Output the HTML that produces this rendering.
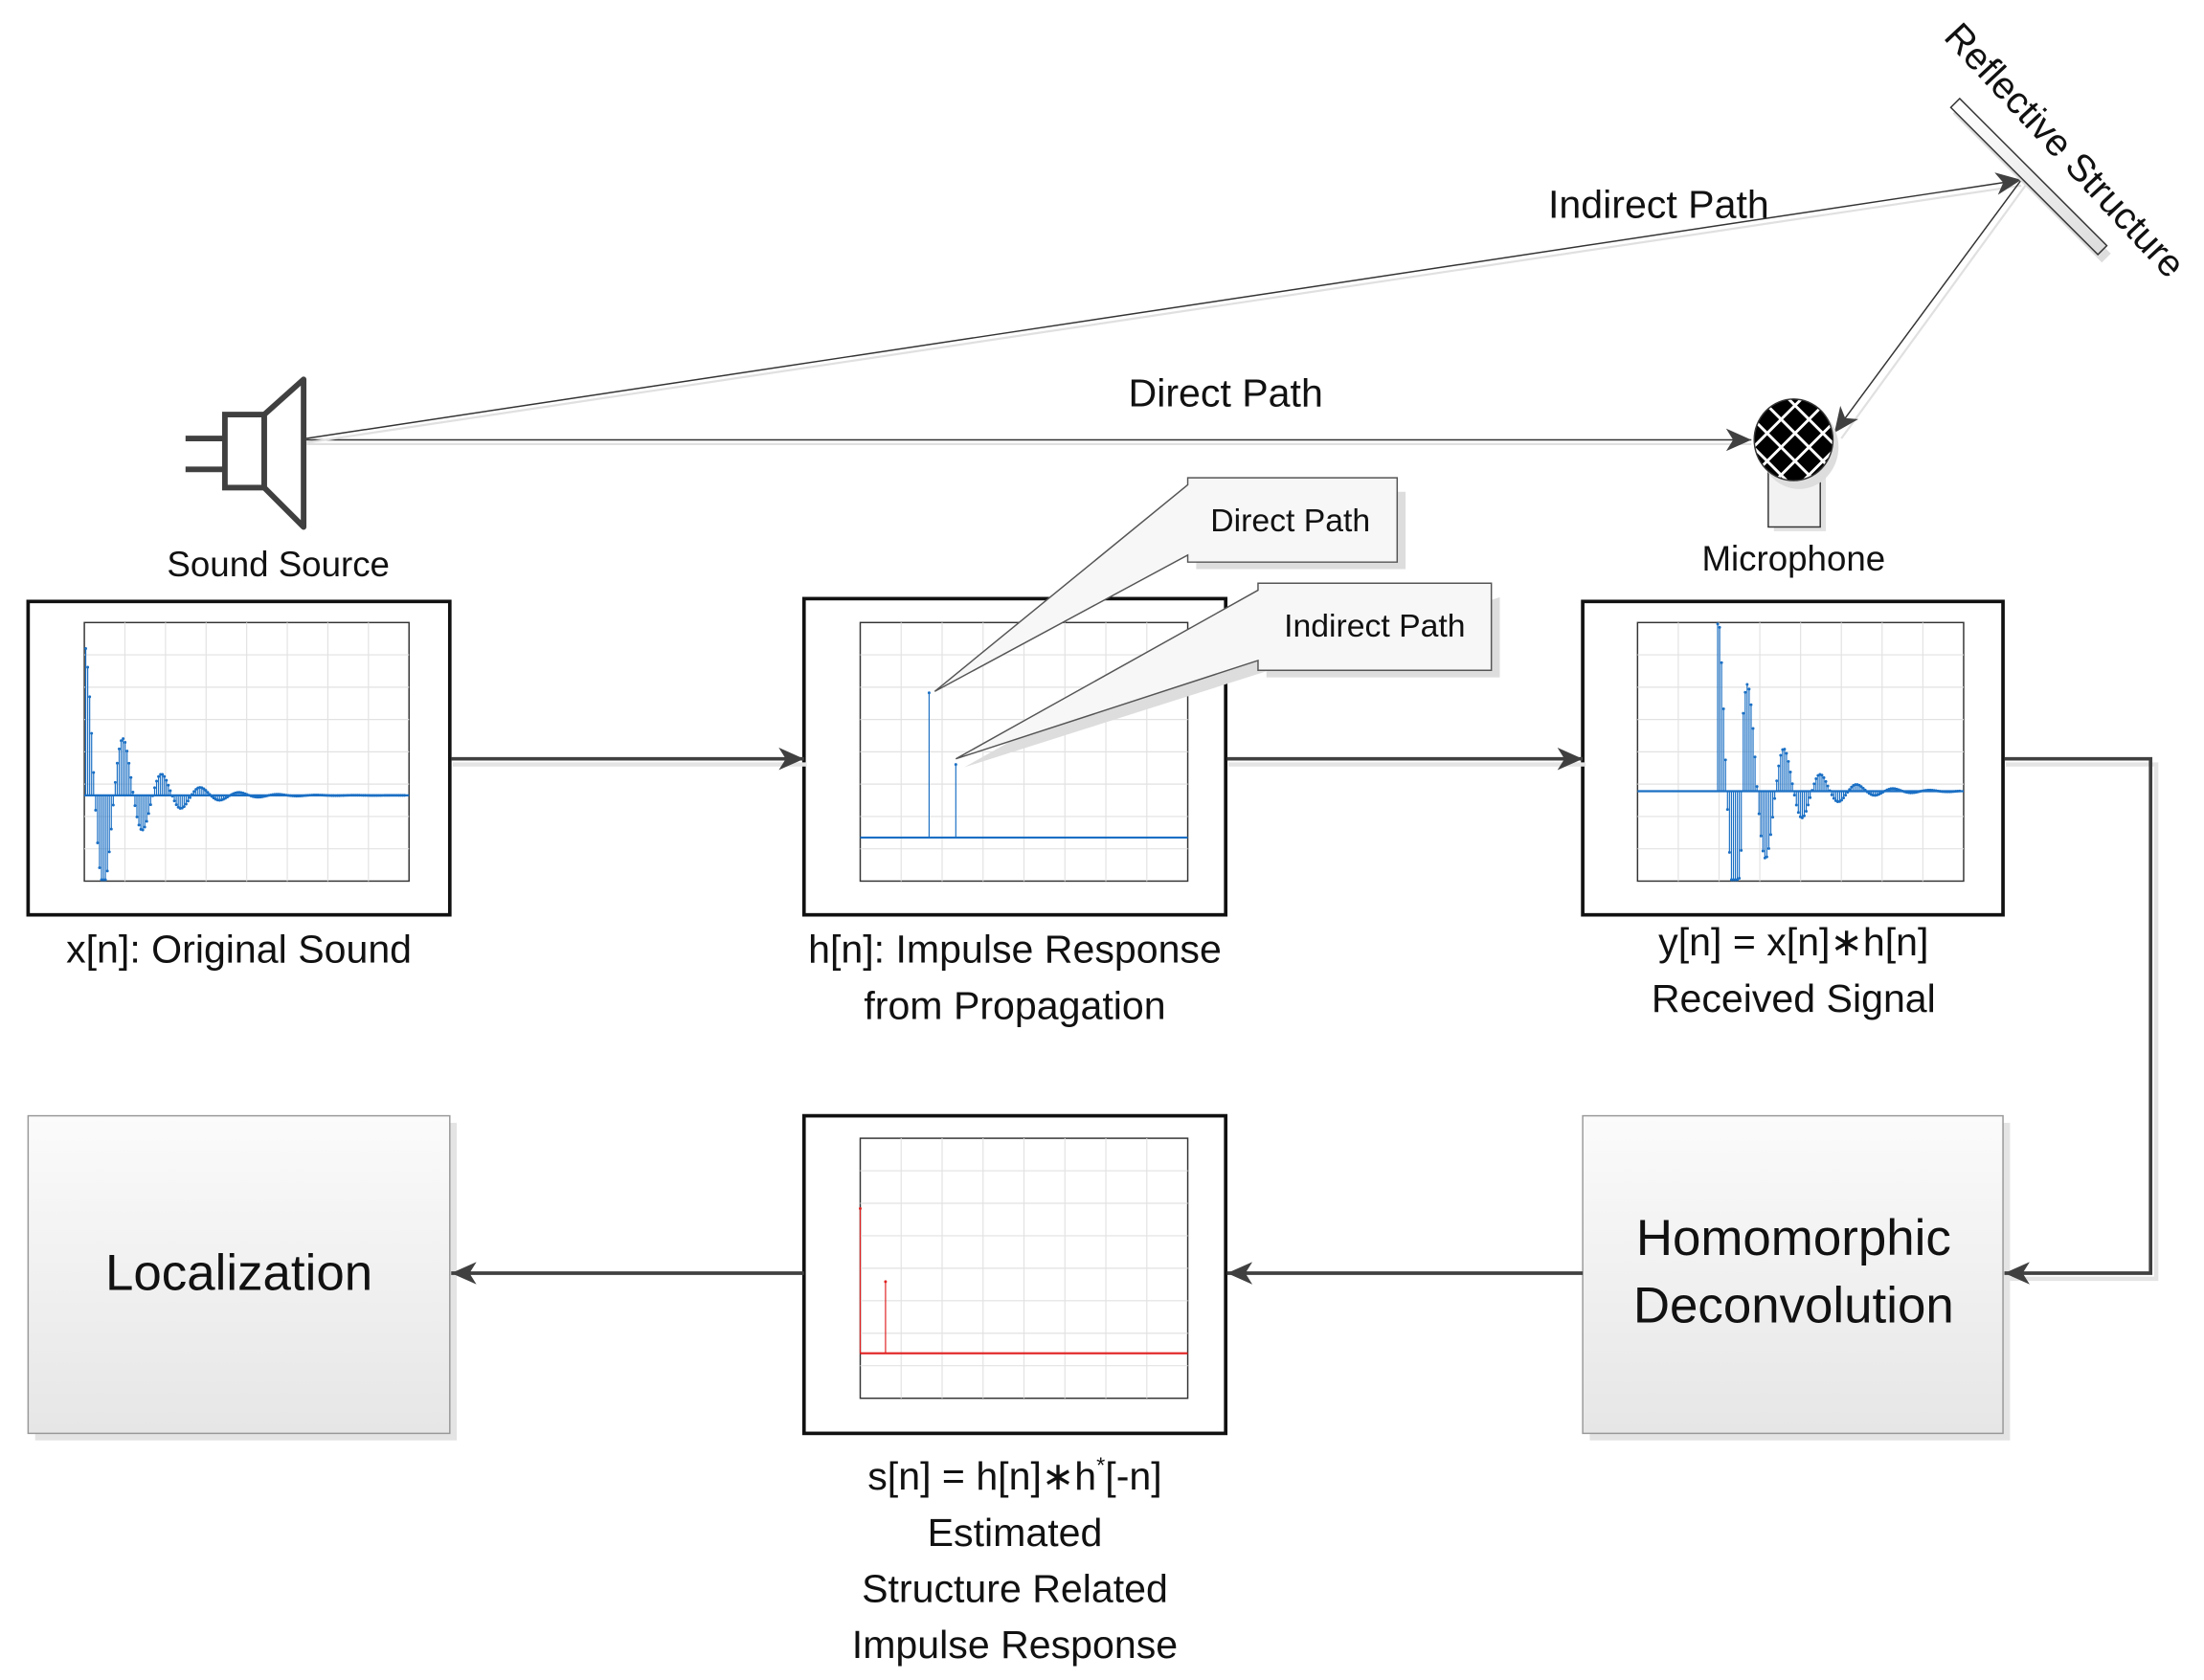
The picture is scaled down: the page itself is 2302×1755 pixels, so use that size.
<!DOCTYPE html>
<html><head><meta charset="utf-8"><style>
html,body{margin:0;padding:0;background:#fff}
svg{display:block}
text{font-family:"Liberation Sans",sans-serif;fill:#111}
</style></head><body>
<svg id="s" width="2302" height="1755" viewBox="0 0 1568 1195.5" preserveAspectRatio="none" xmlns="http://www.w3.org/2000/svg">
<defs>
<marker id="ah" markerWidth="20" markerHeight="16" refX="18" refY="8" orient="auto" markerUnits="userSpaceOnUse"><path d="M0,0 L18,8 L0,16 L5,8 Z" fill="#404040"/></marker>
<marker id="ah2" markerWidth="20" markerHeight="16" refX="18" refY="8" orient="auto" markerUnits="userSpaceOnUse"><path d="M0,0 L18,8 L0,16 L5,8 Z" fill="#404040"/></marker>
<linearGradient id="g" x1="0" y1="0" x2="0" y2="1"><stop offset="0" stop-color="#fbfbfb"/><stop offset="1" stop-color="#e6e6e6"/></linearGradient>
<linearGradient id="bar" x1="0" y1="0" x2="1" y2="0"><stop offset="0" stop-color="#fff"/><stop offset="1" stop-color="#ddd"/></linearGradient>
<pattern id="mesh" width="14" height="14" patternUnits="userSpaceOnUse" patternTransform="rotate(45)"><rect width="14" height="14" fill="#000"/><rect x="0" y="0" width="2" height="14" fill="#fff"/><rect x="0" y="0" width="14" height="2" fill="#fff"/></pattern>
</defs>

<g stroke="#404040" stroke-width="4" fill="#fff">
<line x1="132" y1="312" x2="160" y2="312"/><line x1="132" y1="334" x2="160" y2="334"/>
<rect x="160" y="295" width="28" height="52"/>
<path d="M188,295 L216,270 L216,375 L188,347 Z" stroke-linejoin="round"/>
</g>
<text x="198" y="410" font-size="25" text-anchor="middle">Sound Source</text>

<line x1="218" y1="316" x2="1246" y2="316" stroke="#e0e0e0" stroke-width="1.5"/>
<line x1="218" y1="313" x2="1246" y2="313" stroke="#333" stroke-width="1" marker-end="url(#ah2)"/>
<line x1="218" y1="315" x2="1438" y2="132" stroke="#e0e0e0" stroke-width="1.5"/>
<line x1="218" y1="312" x2="1438" y2="128" stroke="#333" stroke-width="1" marker-end="url(#ah2)"/>
<line x1="1441" y1="132" x2="1310" y2="312" stroke="#e0e0e0" stroke-width="1.5"/>
<line x1="1438" y1="128" x2="1305" y2="308" stroke="#333" stroke-width="1" marker-end="url(#ah2)"/>
<text x="1180" y="155" font-size="28" text-anchor="middle">Indirect Path</text>
<text x="872" y="289" font-size="28" text-anchor="middle">Direct Path</text>

<g transform="translate(1443,126) rotate(45)">
<rect x="-70" y="-3" width="150" height="9" fill="#ddd"/>
<rect x="-74" y="-5" width="148" height="9" fill="url(#bar)" stroke="#333" stroke-width="1"/>
</g>
<text transform="translate(1382,27) rotate(47)" font-size="27">Reflective Structure</text>

<rect x="1262" y="338" width="37" height="40" fill="#e2e2e2"/>
<rect x="1258" y="335" width="37" height="40" fill="#f2f2f2" stroke="#333" stroke-width="1"/>
<ellipse cx="1280" cy="318" rx="28" ry="30" fill="#ddd"/>
<ellipse cx="1276" cy="313" rx="28" ry="29" fill="url(#mesh)" stroke="#333" stroke-width="1"/>
<text x="1276" y="406" font-size="25" text-anchor="middle">Microphone</text>

<g fill="#fff" stroke="#111" stroke-width="2.5">
<rect x="20" y="428" width="300" height="223"/>
<rect x="572" y="426" width="300" height="225"/>
<rect x="1126" y="428" width="299" height="223"/>
<rect x="572" y="794" width="300" height="226"/>
</g>
<g id="plots"></g>

<rect x="25" y="799" width="300" height="226" fill="#e4e4e4"/>
<rect x="20" y="794" width="300" height="226" fill="url(#g)" stroke="#999" stroke-width="1"/>
<text x="170" y="918" font-size="36" text-anchor="middle">Localization</text>
<rect x="1131" y="799" width="299" height="226" fill="#e4e4e4"/>
<rect x="1126" y="794" width="299" height="226" fill="url(#g)" stroke="#999" stroke-width="1"/>
<text x="1276" y="893" font-size="36" text-anchor="middle">Homomorphic</text>
<text x="1276" y="941" font-size="36" text-anchor="middle">Deconvolution</text>

<g stroke="#404040" stroke-width="2.5" fill="none">
<polyline points="322,544 574,544" stroke="#e4e4e4" stroke-width="3"/>
<line x1="321" y1="540" x2="572" y2="540" marker-end="url(#ah)"/>
<polyline points="874,544 1128,544" stroke="#e4e4e4" stroke-width="3"/>
<line x1="873" y1="540" x2="1126" y2="540" marker-end="url(#ah)"/>
<polyline points="1427,544 1534,544 1534,910 1430,910" stroke="#e4e4e4" stroke-width="3"/>
<polyline points="1426,540 1530,540 1530,906 1426,906" marker-end="url(#ah)"/>
<line x1="1126" y1="906" x2="873" y2="906" marker-end="url(#ah)"/>
<line x1="572" y1="906" x2="321" y2="906" marker-end="url(#ah)"/>
</g>

<polygon points="851,350 851,405 1000,405 1000,350 851,350 672,497" fill="#ddd"/>
<path d="M845,345 L665,492 L845,395 L845,400 L994,400 L994,340 L845,340 Z" fill="#f7f7f7" stroke="#555" stroke-width="1"/>
<text x="918" y="378" font-size="23" text-anchor="middle">Direct Path</text>
<polygon points="901,425 901,482 1067,482 1067,425 686,546" fill="#ddd"/>
<path d="M895,420 L680,540 L895,470 L895,477 L1061,477 L1061,415 L895,415 Z" fill="#f7f7f7" stroke="#555" stroke-width="1"/>
<text x="978" y="453" font-size="23" text-anchor="middle">Indirect Path</text>

<g font-size="28" text-anchor="middle">
<text x="170" y="685">x[n]: Original Sound</text>
<text x="722" y="685">h[n]: Impulse Response</text>
<text x="722" y="725">from Propagation</text>
<text x="1276" y="680">y[n] = x[n]∗h[n]</text>
<text x="1276" y="720">Received Signal</text>
<text x="722" y="1060">s[n] = h[n]∗h<tspan font-size="16" dy="-12">*</tspan><tspan dy="12">[-n]</tspan></text>
<text x="722" y="1100">Estimated</text>
<text x="722" y="1140">Structure Related</text>
<text x="722" y="1180">Impulse Response</text>
</g>
</svg>
<script>
var NS="http://www.w3.org/2000/svg",P=document.getElementById("plots");
function el(t,a){var e=document.createElementNS(NS,t);for(var k in a)e.setAttribute(k,a[k]);P.appendChild(e);return e;}
function plot(x0,y0,x1,y1,base,col,stems){
 el("rect",{x:x0,y:y0,width:x1-x0,height:y1-y0,fill:"#fff",stroke:"#333","stroke-width":1});
 for(var i=1;i<8;i++){var x=x0+(x1-x0)*i/8;el("line",{x1:x,y1:y0,x2:x,y2:y1,stroke:"#e2e2e2","stroke-width":0.8});}
 for(var j=1;j<8;j++){var y=y0+(y1-y0)*j/8;el("line",{x1:x0,y1:y,x2:x1,y2:y,stroke:"#e2e2e2","stroke-width":0.8});}
 el("line",{x1:x0,y1:base,x2:x1,y2:base,stroke:col,"stroke-width":1.5});
 stems.forEach(function(s){if(s[0]>x1-2)return;var y=Math.max(y0+1,Math.min(y1-1,s[1]));el("line",{x1:s[0],y1:base,x2:s[0],y2:y,stroke:col,"stroke-width":0.8});el("circle",{cx:s[0],cy:y,r:1,fill:col});});
}
var s1=[];
for(var i=0;i<165;i++){var t=i;var v=105*Math.exp(-t/20)*Math.cos(t*0.32+0.1);s1.push([61+i*1.4,566-v]);}
plot(60,443,291,627,566,"#1a6fc4",s1);
plot(612,443,845,627,596,"#1a6fc4",[[661,493],[680,544]]);
var s3=[];
for(var i=0;i<125;i++){var t=i;var v=130*Math.exp(-t/20)*Math.cos(t*0.34);var t2=i-13;if(t2>=0)v+=75*Math.exp(-t2/20)*Math.cos(t2*0.34);s3.push([1222+i*1.4,563-v]);}
plot(1165,443,1397,627,563,"#1a6fc4",s3);
plot(612,810,845,995,963,"#e02020",[[612,860],[630,912]]);
</script>
</body></html>
